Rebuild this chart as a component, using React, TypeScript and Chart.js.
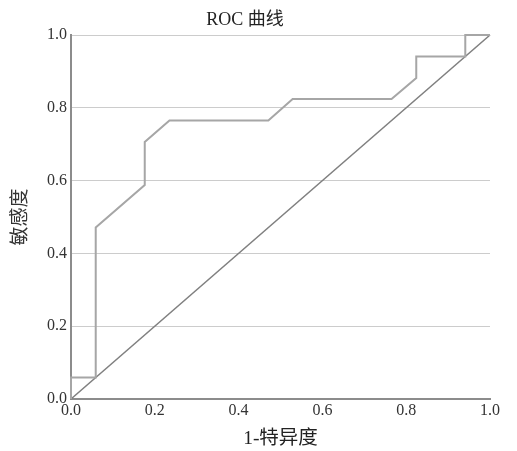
import React, { useEffect, useRef } from "react";
import { Chart, registerables } from "chart.js";

Chart.register(...registerables);

// ROC curve points (1 - specificity, sensitivity)
const fpr = [0, 0, 0.059, 0.059, 0.176, 0.176, 0.235, 0.471, 0.529, 0.765, 0.824, 0.824, 0.941, 0.941, 1.0];
const tpr = [0, 0.059, 0.059, 0.471, 0.588, 0.706, 0.765, 0.765, 0.824, 0.824, 0.882, 0.941, 0.941, 1.0, 1.0];
// Reference diagonal
const refX = [0, 1];
const refY = [0, 1];

const titleText = "ROC 曲线";
const xTitle = "1-特异度";
const yTitle = "敏感度";

const FONT = "'Liberation Serif', 'Times New Roman', 'Noto Sans CJK SC', serif";

export default function App() {
  const ref = useRef<HTMLCanvasElement | null>(null);

  useEffect(() => {
    const canvas = ref.current;
    if (!canvas) return;
    const chart = new Chart(canvas, {
      type: "scatter",
      data: {
        datasets: [
          {
            label: "ROC",
            data: fpr.map((x, i) => ({ x, y: tpr[i] })),
            showLine: true,
            borderColor: "#a6a6a6",
            borderWidth: 2,
            pointRadius: 0,
            fill: false,
            clip: false,
          },
          {
            label: "参考线",
            data: refX.map((x, i) => ({ x, y: refY[i] })),
            showLine: true,
            borderColor: "#808080",
            borderWidth: 1.6,
            pointRadius: 0,
            fill: false,
            clip: false,
          },
        ],
      },
      options: {
        animation: false,
        responsive: false,
        layout: { padding: { left: 0, right: 27, top: 0, bottom: 0 } },
        plugins: {
          legend: { display: false },
          tooltip: { enabled: false },
          title: {
            display: true,
            text: titleText,
            color: "#222",
            font: { family: FONT, size: 18, weight: "normal" },
            padding: { top: 9, bottom: 4.4 },
          },
        },
        scales: {
          x: {
            type: "linear",
            min: 0,
            max: 1,
            afterFit: (s: any) => {
              s.height = 52;
            },
            grid: { display: false, drawTicks: false },
            border: { display: true, color: "#8c8c8c", width: 2 },
            ticks: {
              stepSize: 0.2,
              padding: 2,
              color: "#333",
              font: { family: FONT, size: 16 },
              maxRotation: 0,
              callback: (v: any) => Number(v).toFixed(1),
            },
            title: {
              display: true,
              text: xTitle,
              color: "#222",
              font: { family: FONT, size: 19.5 },
              padding: { top: 0, bottom: 0.4 },
            },
          },
          y: {
            type: "linear",
            min: 0,
            max: 1,
            afterFit: (s: any) => {
              s.width = 71;
            },
            grid: { display: true, color: "#cccccc", lineWidth: 1, drawTicks: false },
            border: { display: true, color: "#8c8c8c", width: 2 },
            ticks: {
              stepSize: 0.2,
              padding: 4,
              color: "#333",
              font: { family: FONT, size: 16 },
              callback: (v: any) => Number(v).toFixed(1),
            },
            title: {
              display: true,
              text: yTitle,
              color: "#333",
              font: { family: FONT, size: 19 },
              padding: { top: 10, bottom: 0 },
            },
          },
        },
      },
    });
    return () => chart.destroy();
  }, []);

  return (
    <div style={{ position: "absolute", left: 0, top: 0, width: 517, height: 451, background: "#fff" }}>
      <canvas ref={ref} width={517} height={451} />
    </div>
  );
}
